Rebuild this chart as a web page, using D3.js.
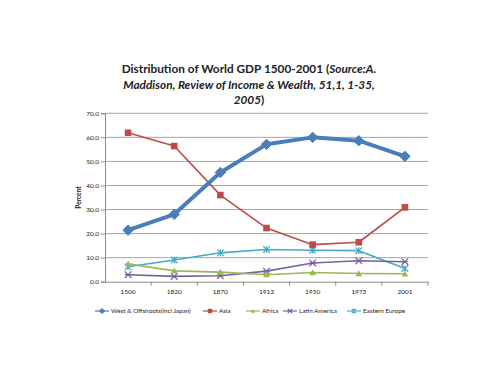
<!DOCTYPE html>
<html>
<head>
<meta charset="utf-8">
<script src="https://cdn.jsdelivr.net/npm/d3@7"></script>
<style>
  body { margin: 0; background: #fff; }
  svg text { font-family: Lato, "Open Sans", sans-serif; fill: #222; }
</style>
</head>
<body>
<svg id="chart" width="500" height="375"></svg>
<script>
var width = 500, height = 375

var years = ['1500', '1820', '1870', '1913', '1950', '1973', '2001']
var yTicks = [0, 10, 20, 30, 40, 50, 60, 70]

var west = [21.4, 28.0, 45.4, 57.1, 60.0, 58.6, 52.1]
var asia = [61.9, 56.4, 36.0, 22.3, 15.4, 16.4, 30.9]
var africa = [7.4, 4.5, 4.0, 2.9, 3.8, 3.4, 3.3]
var latin = [2.9, 2.2, 2.5, 4.4, 7.8, 8.7, 8.3]
var eastEu = [6.2, 9.0, 12.0, 13.4, 13.1, 12.9, 5.5]

var seriesNames = ['West & Offshoots(incl Japan)', 'Asia', 'Africa', 'Latin America', 'Eastern Europe']
var colors = ['#4a7ebb', '#be4b48', '#98b954', '#7d60a0', '#46aac5']
var markers = ['diamond', 'square', 'triangle', 'x', 'star']
var lineWidths = [4, 1.6, 1.6, 1.6, 1.6]

var series = [west, asia, africa, latin, eastEu].map(function(vals, i) {
  return {name: seriesNames[i], values: vals, color: colors[i], marker: markers[i], lw: lineWidths[i]}
})

var svg = d3.select('#chart')
var plotLeft = 105, plotRight = 428, plotTop = 113.3, plotBottom = 281.7

var x = d3.scaleBand().domain(years).range([plotLeft, plotRight])
var y = d3.scaleLinear().domain([0, 70]).range([plotBottom, plotTop])

// title
var title = svg.append('text')
  .attr('text-anchor', 'middle')
  .attr('font-weight', 'bold')
  .attr('font-size', 11.8)
var t1 = title.append('tspan').attr('x', 249).attr('y', 73)
t1.append('tspan').text('Distribution of World GDP 1500-2001 (')
t1.append('tspan').attr('font-style', 'italic').text('Source:A.')
title.append('tspan').attr('x', 249).attr('y', 88.5)
  .attr('font-style', 'italic')
  .text('Maddison, Review of Income & Wealth, 51,1, 1-35,')
var t3 = title.append('tspan').attr('x', 249).attr('y', 104)
t3.append('tspan').attr('font-style', 'italic').text('2005')
t3.append('tspan').text(')')

// gridlines
svg.append('g')
  .selectAll('line')
  .data(yTicks.slice(1))
  .enter()
  .append('line')
  .attr('x1', plotLeft)
  .attr('x2', plotRight)
  .attr('y1', function(d) { return y(d) })
  .attr('y2', function(d) { return y(d) })
  .attr('stroke', '#a6a6a6')
  .attr('stroke-width', 1)

// y axis
var yAxis = svg.append('g')
  .attr('transform', 'translate(' + plotLeft + ',0)')
  .call(d3.axisLeft(y).tickValues(yTicks).tickSize(4).tickFormat(d3.format('.1f')))
yAxis.select('.domain').attr('stroke', '#8c8c8c')
yAxis.selectAll('.tick line').attr('stroke', '#8c8c8c')
yAxis.selectAll('.tick text').attr('font-size', 6.5).attr('x', -6)
  .style('font-family', 'Lato, "Open Sans", sans-serif')

// x axis
var xAxis = svg.append('g')
  .attr('transform', 'translate(0,' + plotBottom + ')')
  .call(d3.axisBottom(x).tickSize(0).tickPadding(8))
xAxis.select('.domain').attr('stroke', '#8c8c8c')
xAxis.selectAll('.tick text').attr('font-size', 6.5)
  .style('font-family', 'Lato, "Open Sans", sans-serif')
svg.append('g')
  .selectAll('line')
  .data(years)
  .enter()
  .append('line')
  .attr('x1', function(d) { return x(d) + x.step() })
  .attr('x2', function(d) { return x(d) + x.step() })
  .attr('y1', plotBottom)
  .attr('y2', plotBottom + 4)
  .attr('stroke', '#8c8c8c')

svg.append('text')
  .attr('transform', 'translate(81,' + ((plotTop + plotBottom) / 2) + ') rotate(-90)')
  .attr('text-anchor', 'middle')
  .attr('font-size', 6.5)
  .attr('font-weight', 'bold')
  .text('Percent')

function cx(i) { return x(years[i]) + x.bandwidth() / 2 }

function drawMarker(g, type, color, px, py, s) {
  if (type === 'diamond') {
    g.append('path')
      .attr('d', 'M' + px + ',' + (py - s) + 'L' + (px + s) + ',' + py + 'L' + px + ',' + (py + s) + 'L' + (px - s) + ',' + py + 'Z')
      .attr('fill', color).attr('stroke', color)
  } else if (type === 'square') {
    g.append('rect').attr('x', px - s).attr('y', py - s).attr('width', 2 * s).attr('height', 2 * s)
      .attr('fill', color)
  } else if (type === 'triangle') {
    g.append('path')
      .attr('d', 'M' + px + ',' + (py - s) + 'L' + (px + s) + ',' + (py + s * 0.8) + 'L' + (px - s) + ',' + (py + s * 0.8) + 'Z')
      .attr('fill', color)
  } else {
    g.append('path')
      .attr('d', 'M' + (px - s) + ',' + (py - s) + 'L' + (px + s) + ',' + (py + s) + 'M' + (px + s) + ',' + (py - s) + 'L' + (px - s) + ',' + (py + s) +
        (type === 'star' ? 'M' + px + ',' + (py - s) + 'L' + px + ',' + (py + s) : 'M' + (px - s) + ',' + py + 'L' + (px + s) + ',' + py))
      .attr('stroke', color).attr('stroke-width', 1.2).attr('fill', 'none')
  }
}

var line = d3.line()
  .x(function(d, i) { return cx(i) })
  .y(function(d) { return y(d) })

// draw in reverse so West sits on top
series.slice().reverse().forEach(function(s) {
  var g = svg.append('g')
  g.append('path')
    .datum(s.values)
    .attr('d', line)
    .attr('fill', 'none')
    .attr('stroke', s.color)
    .attr('stroke-width', s.lw)
    .attr('stroke-linejoin', 'round')
  var size = s.marker === 'diamond' ? 5.2 : 3.3
  s.values.forEach(function(v, i) {
    drawMarker(g, s.marker, s.color, cx(i), y(v), size)
  })
})

// legend
var legendX = [95, 203, 246, 283, 347]
var legend = svg.append('g')
series.forEach(function(s, i) {
  var lx = legendX[i], ly = 311
  legend.append('line')
    .attr('x1', lx).attr('x2', lx + 14)
    .attr('y1', ly).attr('y2', ly)
    .attr('stroke', s.color).attr('stroke-width', 1.2)
  drawMarker(legend, s.marker, s.color, lx + 7, ly, s.marker === 'diamond' ? 2.6 : 2.2)
  legend.append('text')
    .attr('x', lx + 16)
    .attr('y', ly + 2.3)
    .attr('font-size', 6.3)
    .text(s.name)
})
</script>
</body>
</html>
